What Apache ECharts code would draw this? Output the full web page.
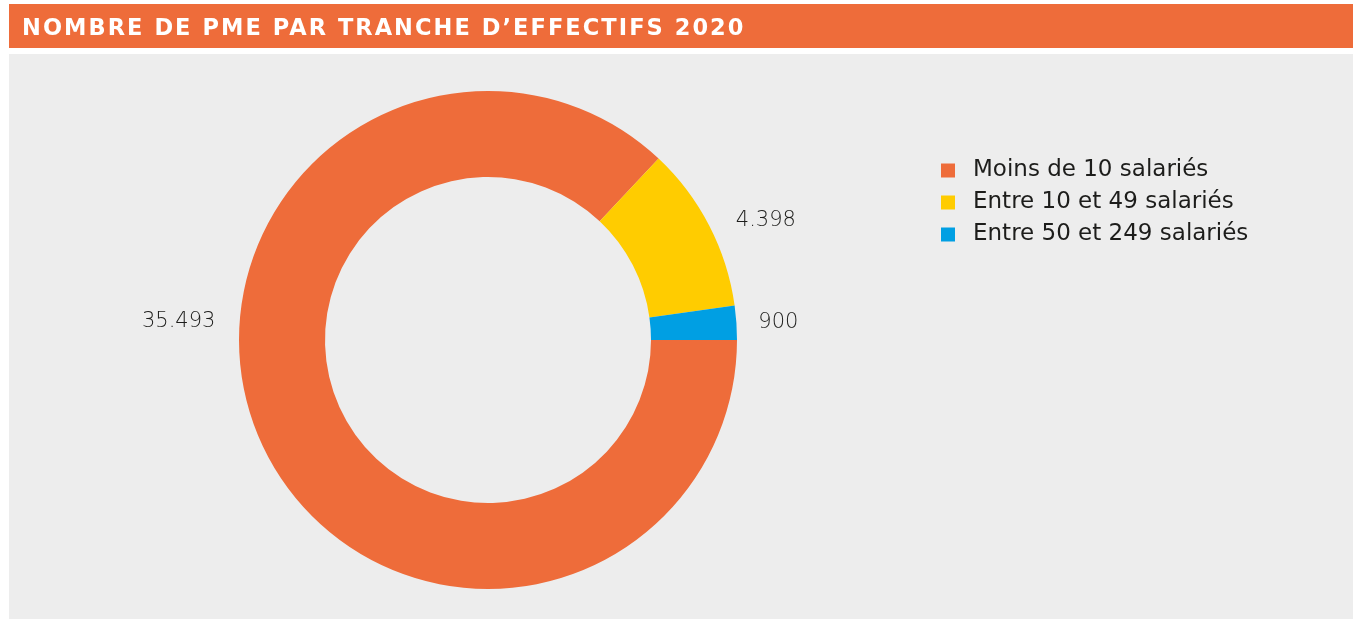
<!DOCTYPE html>
<html><head><meta charset="utf-8">
<script src="https://cdn.jsdelivr.net/npm/echarts@6/dist/echarts.min.js"></script>
<style>
html,body{margin:0;padding:0;background:#fff;}
#wrap{position:relative;width:1357px;height:619px;}
#c{width:1357px;height:619px;}
#t{position:absolute;left:22px;top:12px;color:#fff;font-family:'DejaVu Sans';font-weight:bold;font-size:22.5px;letter-spacing:2.05px;line-height:30px;white-space:nowrap;z-index:5;}
</style>
</head><body><div id="wrap"><div id="c"></div><div id="t"></div></div>
<script>
const titleText = "NOMBRE DE PME PAR TRANCHE D\u2019EFFECTIFS 2020";
const categories = ["Moins de 10 salariés", "Entre 10 et 49 salariés", "Entre 50 et 249 salariés"];
const values = [35493, 4398, 900];
const valueLabels = ["35.493", "4.398", "900"];
const colors = ["#EE6C3A", "#FFCC00", "#009FE3"];

document.getElementById('t').textContent = titleText;
const chart = echarts.init(document.getElementById('c'));
chart.setOption({
  animation: false,
  backgroundColor: '#ffffff',
  graphic: [
    {type: 'rect', shape: {x: 9, y: 4, width: 1344, height: 44}, style: {fill: '#EE6C3A'}, z: -10},
    {type: 'rect', shape: {x: 9, y: 54, width: 1344, height: 565}, style: {fill: '#EDEDED'}, z: -10}
  ],
  legend: {
    orient: 'vertical', left: 936, top: 154,
    itemWidth: 14, itemHeight: 14, itemGap: 9,
    icon: 'rect',
    data: categories,
    textStyle: {color: '#1d1d1b', fontFamily: 'DejaVu Sans', fontSize: 23, padding: [0, 0, 0, 13]}
  },
  series: [{
    type: 'pie',
    center: [488, 340],
    radius: [163, 249],
    startAngle: 0,
    clockwise: true,
    avoidLabelOverlap: false,
    data: categories.map((n, i) => ({name: n, value: values[i], itemStyle: {color: colors[i]}})),
    label: {
      show: true, position: 'outside',
      formatter: p => valueLabels[p.dataIndex],
      color: '#1d1d1b', fontFamily: 'DejaVu Sans', fontWeight: 300, fontSize: 21
    },
    labelLine: {show: false, length: 12, length2: 12},
    labelLayout: function (p) {
      if (p.dataIndex === 0) return {dx: -16, dy: -122};
      if (p.dataIndex === 2) return {dx: -7, dy: 1};
      return {dx: -1};
    },
    emphasis: {disabled: true}
  }]
});
</script></body></html>
